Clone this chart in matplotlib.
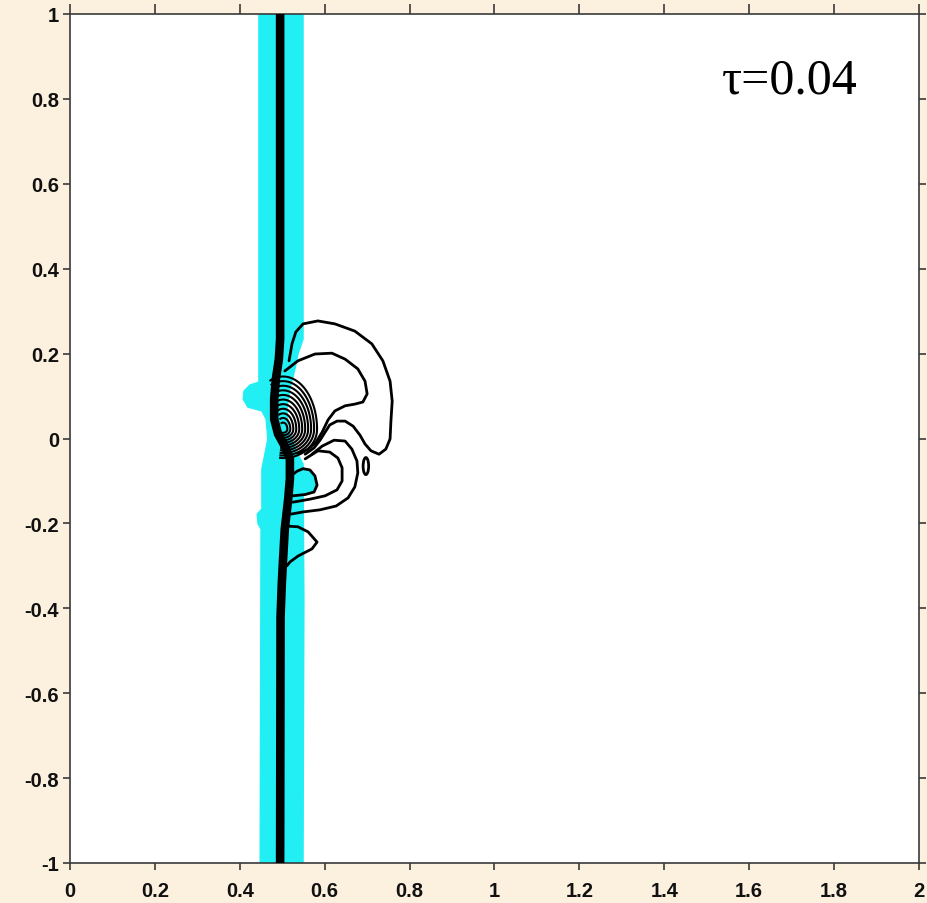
import numpy as np
import matplotlib
matplotlib.use("Agg")
import matplotlib.pyplot as plt
from matplotlib.patches import Ellipse, Polygon

# ---------------- data (all in chart units) ----------------
x_ticks = [0, 0.2, 0.4, 0.6, 0.8, 1.0, 1.2, 1.4, 1.6, 1.8, 2.0]
x_labels = ["0", "0.2", "0.4", "0.6", "0.8", "1", "1.2", "1.4", "1.6", "1.8", "2"]
y_ticks = [-1.0, -0.8, -0.6, -0.4, -0.2, 0.0, 0.2, 0.4, 0.6, 0.8, 1.0]
y_labels = ["-1", "-0.8", "-0.6", "-0.4", "-0.2", "0", "0.2", "0.4", "0.6", "0.8", "1"]
time_label = "τ=0.04"

# interface (thick black line)
iface_x = [0.495, 0.495, 0.492, 0.485, 0.481, 0.481, 0.490, 0.506, 0.518, 0.518, 0.514, 0.506, 0.502, 0.499, 0.496, 0.495]
iface_y = [1.0, 0.234, 0.187, 0.140, 0.093, 0.046, 0.011, -0.018, -0.048, -0.095, -0.143, -0.213, -0.284, -0.340, -0.420, -1.0]

# cyan band outline: left edge top->bottom, then right edge bottom->top
band_left_x = [0.445, 0.445, 0.424, 0.410, 0.408, 0.419, 0.452, 0.462, 0.466, 0.459, 0.452, 0.452, 0.441, 0.443, 0.450, 0.448]
band_left_y = [1.0, 0.133, 0.126, 0.112, 0.093, 0.074, 0.065, 0.046, -0.001, -0.037, -0.072, -0.166, -0.178, -0.201, -0.213, -1.0]
band_right_x = [0.549, 0.551, 0.549, 0.530, 0.514, 0.511, 0.518, 0.530, 0.537, 0.549, 0.549]
band_right_y = [-1.0, -0.378, -0.060, -0.025, 0.022, 0.069, 0.117, 0.164, 0.199, 0.234, 1.0]

# traced contour lines
c1_x = [0.516, 0.523, 0.532, 0.549, 0.584, 0.624, 0.671, 0.711, 0.737, 0.754, 0.759, 0.756, 0.754, 0.744, 0.728,
        0.709, 0.695, 0.683, 0.667, 0.648, 0.629, 0.612, 0.601, 0.589, 0.575, 0.554]
c1_y = [0.183, 0.223, 0.251, 0.270, 0.277, 0.270, 0.253, 0.223, 0.183, 0.135, 0.088, 0.041, -0.001, -0.025, -0.037,
        -0.029, -0.013, 0.008, 0.029, 0.041, 0.041, 0.032, 0.015, -0.004, -0.022, -0.037]
c2_x = [0.506, 0.537, 0.577, 0.617, 0.648, 0.678, 0.695, 0.700, 0.690, 0.671, 0.648, 0.624, 0.608, 0.594, 0.580, 0.561, 0.537]
c2_y = [0.159, 0.183, 0.199, 0.201, 0.187, 0.164, 0.135, 0.105, 0.086, 0.081, 0.077, 0.065, 0.044, 0.015, -0.008, -0.025, -0.037]
l1_x = [0.570, 0.594, 0.622, 0.648, 0.664, 0.676, 0.678, 0.671, 0.655, 0.627, 0.589, 0.549, 0.521]
l1_y = [-0.037, -0.018, -0.004, -0.006, -0.025, -0.053, -0.081, -0.114, -0.140, -0.159, -0.168, -0.173, -0.178]
l2_x = [0.554, 0.584, 0.612, 0.631, 0.641, 0.641, 0.629, 0.601, 0.565, 0.525]
l2_y = [-0.048, -0.029, -0.032, -0.046, -0.069, -0.100, -0.121, -0.135, -0.143, -0.150]
l3_x = [0.523, 0.535, 0.549, 0.565, 0.577, 0.582, 0.575, 0.554, 0.525]
l3_y = [-0.086, -0.077, -0.071, -0.074, -0.088, -0.110, -0.126, -0.132, -0.135]
t_x = [0.506, 0.537, 0.561, 0.582, 0.570, 0.537, 0.518, 0.511]
t_y = [-0.206, -0.208, -0.220, -0.244, -0.260, -0.277, -0.291, -0.300]

# small closed contour (ellipse): centre, width, height
blob_center = (0.697, -0.065)
blob_size = (0.013, 0.040)

# dense nested contours around the focus
focus = (0.502, 0.022)
fan_radii = [0.010, 0.017, 0.024, 0.031, 0.038, 0.045, 0.052, 0.059, 0.066, 0.073, 0.080]

# ---------------- figure ----------------
BG = "#fcf0de"
CYAN = "#22eff4"
fig = plt.figure(figsize=(9.28, 9.04), dpi=100, facecolor=BG)
ax = fig.add_axes([70 / 928, 40 / 904, 849 / 928, 849 / 904])
ax.set_facecolor("white")
ax.set_xlim(0, 2)
ax.set_ylim(-1, 1)

# cyan band
poly_x = band_left_x + band_right_x
poly_y = band_left_y + band_right_y
ax.add_patch(Polygon(np.column_stack([poly_x, poly_y]), closed=True, facecolor=CYAN,
                     edgecolor=CYAN, lw=1, zorder=1))
# cyan inside the small lower loop and at the focus
ax.fill(l3_x, l3_y, color=CYAN, zorder=1.5, lw=0)
ax.add_patch(Ellipse(focus, 0.016, 0.020, facecolor=CYAN, edgecolor="none", zorder=1.5))

lw_c = 2.0
for xs, ys in [(c1_x, c1_y), (c2_x, c2_y), (l1_x, l1_y), (l2_x, l2_y), (l3_x, l3_y), (t_x, t_y)]:
    ax.plot(xs, ys, color="black", lw=lw_c, solid_joinstyle="round", solid_capstyle="round", zorder=3)

ax.add_patch(Ellipse(blob_center, blob_size[0], blob_size[1], facecolor="none",
                     edgecolor="black", lw=lw_c, zorder=3))

# nested arcs around the focus
t = np.radians(np.linspace(112, -95, 80))
for r in fan_radii:
    up = np.where(np.sin(t) > 0, 1.55, 0.85)
    ax.plot(focus[0] + r * np.cos(t), focus[1] + up * r * np.sin(t),
            color="black", lw=1.5, zorder=3)

# interface
ax.plot(iface_x, iface_y, color="black", lw=6.2, solid_capstyle="butt",
        solid_joinstyle="round", zorder=4)

# annotation
ax.text(1.536, 0.816, time_label, fontsize=36, family="Liberation Serif",
        ha="left", va="baseline", color="black", zorder=5)

# axes styling
spine_c = "#3a3a3a"
for s in ax.spines.values():
    s.set_color(spine_c)
    s.set_linewidth(1.2)
ax.set_xticks(x_ticks)
ax.set_xticklabels(x_labels)
ax.set_yticks(y_ticks)
ax.set_yticklabels(y_labels)
ax.tick_params(axis="both", direction="out", length=5, width=1.2, color=spine_c,
               labelsize=14.5, pad=3, top=True, right=True)
ax.tick_params(axis="x", which="major", pad=8, labeltop=False)
for tl in ax.get_xticklabels() + ax.get_yticklabels():
    tl.set_fontweight("bold")
    tl.set_family("Liberation Sans")
    tl.set_color("#111111")
# longer top ticks
for tk in ax.xaxis.get_major_ticks():
    tk.tick2line.set_markersize(7)

fig.savefig("out.png", dpi=100, facecolor=BG)
